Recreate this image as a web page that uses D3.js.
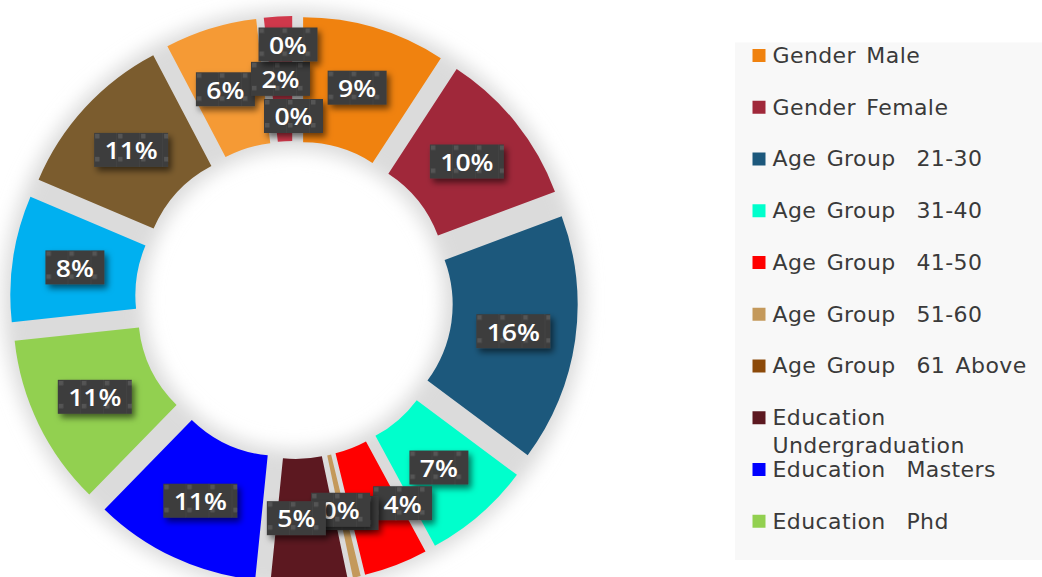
<!DOCTYPE html>
<html><head><meta charset="utf-8">
<script src="https://cdn.jsdelivr.net/npm/d3@7"></script>
<style>html,body{margin:0;padding:0;background:#fff;overflow:hidden}</style>
</head><body>
<svg id="chart" width="1042" height="577"></svg>
<script>
// ---- data ----
const categories = [
  "Gender Male", "Gender Female",
  "Age Group  21-30", "Age Group  31-40", "Age Group  41-50", "Age Group  51-60", "Age Group  61 Above",
  "Education  Undergraduation", "Education  Masters", "Education  Phd",
  "Experience  1-5", "Experience  6-10", "Experience  11-15", "Experience  16-20",
  "Experience  21-25", "Experience  26 Above"
];
const values = [9.2, 10.1, 15.9, 6.9, 4.1, 0.5, 0, 4.9, 10.7, 11.0, 8.1, 10.9, 5.9, 1.8, 0, 0];
const colors = [
  "#F0820F", "#A0283A",
  "#1C587C", "#00FFCC", "#FF0000", "#C4995B", "#8C4A0A",
  "#5C1820", "#0000FF", "#92D050",
  "#00B0F0", "#7B5C2E", "#F59A35", "#D0384B", "#7F7F7F", "#A5A5A5"
];
// label collision offsets (px) applied on top of the slice centroid
const labelNudges = {
  "Age Group  41-50": [29, -3.5],
  "Age Group  51-60": [6, -3],
  "Age Group  61 Above": [1, -7],
  "Education  Undergraduation": [-9.5, -3],
  "Experience  11-15": [-3.5, 1],
  "Experience  16-20": [-1, 0],
  "Experience  21-25": [-6, -34],
  "Experience  26 Above": [-0.5, 37.5]
};

// ---- layout ----
const cx = 294, cy = 300, R = 252, r0 = 127, explode = 32;
const svg = d3.select("#chart");
const defs = svg.append("defs");

const ringBlur = defs.append("filter").attr("id", "ringBlur")
  .attr("x", "-20%").attr("y", "-20%").attr("width", "140%").attr("height", "140%");
ringBlur.append("feGaussianBlur").attr("stdDeviation", 9);

const boxShadow = defs.append("filter").attr("id", "boxShadow")
  .attr("x", "-30%").attr("y", "-40%").attr("width", "160%").attr("height", "190%");
boxShadow.append("feDropShadow").attr("dx", 3).attr("dy", 4).attr("stdDeviation", 3)
  .attr("flood-color", "#000").attr("flood-opacity", 0.55);

const pat = defs.append("pattern").attr("id", "lblpat").attr("patternUnits", "userSpaceOnUse")
  .attr("width", 23).attr("height", 23);
pat.append("rect").attr("width", 23).attr("height", 23).attr("fill", "#3d3d3d");
pat.append("rect").attr("x", 1).attr("y", 1).attr("width", 4.5).attr("height", 4.5).attr("fill", "#555555");
pat.append("rect").attr("x", 22.4).attr("y", 0).attr("width", 0.8).attr("height", 23).attr("fill", "#474747");

const data = categories.map((c, i) => ({ name: c, value: values[i], color: colors[i] }));
const pie = d3.pie().sort(null).value(d => d.value);
const arcs = pie(data);
const arc = d3.arc().innerRadius(r0).outerRadius(R);

const g = svg.append("g").attr("transform", `translate(${cx},${cy})`);

// soft grey backdrop ring (shadow)
g.append("path")
  .attr("d", d3.arc()({ innerRadius: 150, outerRadius: 291, startAngle: 0, endAngle: 2 * Math.PI }))
  .attr("fill", "#dbdbdb").attr("filter", "url(#ringBlur)");

function shift(d) {
  const a = (d.startAngle + d.endAngle) / 2;
  return [explode * Math.sin(a), -explode * Math.cos(a)];
}

g.selectAll("path.slice").data(arcs.filter(d => d.value > 0)).join("path")
  .attr("class", "slice")
  .attr("transform", d => `translate(${shift(d)})`)
  .attr("d", arc)
  .attr("fill", d => d.data.color);

// data labels
const total = d3.sum(values);
const lg = g.append("g");
const stretch = 1.18;
arcs.forEach(d => {
  const [sx, sy] = shift(d);
  const [c1, c2] = arc.centroid(d);
  const n = labelNudges[d.data.name] || [0, 0];
  const x = sx + c1 + n[0], y = sy + c2 + n[1];
  const grp = lg.append("g");
  const t = grp.append("text")
    .attr("text-anchor", "middle")
    .attr("font-family", "'Open Sans', sans-serif")
    .attr("font-weight", 600)
    .attr("font-size", 22.5)
    .attr("fill", "#ffffff")
    .text(Math.round(d.value / total * 100) + "%");
  const tw = t.node().getComputedTextLength() * stretch;
  const w = Math.round(tw + 21), h = 34;
  grp.attr("transform", `translate(${x - w / 2},${y - h / 2})`);
  t.attr("transform", `translate(${w / 2},26.3) scale(${stretch},1)`);
  grp.insert("rect", "text").attr("width", w).attr("height", h)
    .attr("fill", "url(#lblpat)").attr("filter", "url(#boxShadow)");
});

// legend
const legX = 735, legY = 42.5, legW = 307, legH = 517.5;
svg.append("rect").attr("x", legX).attr("y", legY).attr("width", legW).attr("height", legH).attr("fill", "#f8f8f8");
const rowStep = 51.75, firstRow = 55.5;
const maxRows = Math.floor((legY + legH - 20 - firstRow) / rowStep) + 1;
const leg = svg.append("g");
data.slice(0, maxRows).forEach((d, i) => {
  const yc = firstRow + i * rowStep;
  leg.append("rect").attr("x", 752.5).attr("y", yc - 6.5).attr("width", 13).attr("height", 13).attr("fill", d.color);
  const t = leg.append("text").attr("x", 772.5).attr("y", yc + 7.3)
    .attr("font-family", "'DejaVu Sans', Verdana, sans-serif")
    .attr("font-size", 22).attr("fill", "#3a3a3a")
    .attr("letter-spacing", 0.4).attr("word-spacing", 3)
    .style("white-space", "pre").text(d.name);
  if (t.node().getComputedTextLength() > 262) {
    const parts = d.name.split(/\s+/);
    t.text(null);
    t.append("tspan").attr("x", 772.5).attr("dy", 0).text(parts[0]);
    t.append("tspan").attr("x", 772.5).attr("dy", 28).text(parts.slice(1).join(" "));
  }
});
</script>
</body></html>
